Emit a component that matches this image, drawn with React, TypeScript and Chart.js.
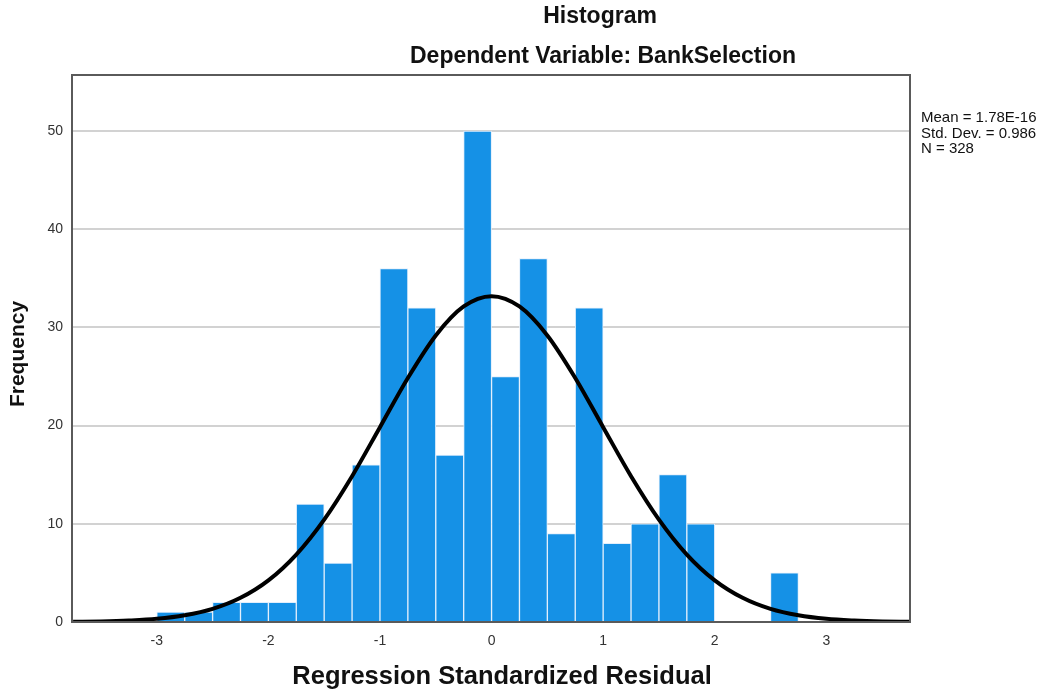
import React, { useEffect, useRef } from "react";
import { Chart, registerables } from "chart.js";

Chart.register(...registerables);

// Histogram bins (centers, width 0.25) and frequencies
const binCenters = [
  -2.875, -2.625, -2.375, -2.125, -1.875, -1.625, -1.375, -1.125, -0.875, -0.625, -0.375,
  -0.125, 0.125, 0.375, 0.625, 0.875, 1.125, 1.375, 1.625, 1.875, 2.125, 2.375, 2.625,
];
const frequencies = [
  1, 1, 2, 2, 2, 12, 6, 16, 36, 32, 17, 50, 25, 37, 9, 32, 8, 10, 15, 10, 0, 0, 5,
];

// Normal curve
const curveX = [
  -3.75, -3.5, -3.25, -3.0, -2.75, -2.5, -2.25, -2.0, -1.75, -1.5, -1.25, -1.0, -0.75, -0.5,
  -0.25, 0, 0.25, 0.5, 0.75, 1.0, 1.25, 1.5, 1.75, 2.0, 2.25, 2.5, 2.75, 3.0, 3.25, 3.5, 3.75,
];
const curveY = [
  0.02, 0.06, 0.15, 0.32, 0.68, 1.33, 2.46, 4.24, 6.87, 10.43, 14.85, 19.84, 24.85, 29.18,
  32.13, 33.18, 32.13, 29.18, 24.85, 19.84, 14.85, 10.43, 6.87, 4.24, 2.46, 1.33, 0.68, 0.32,
  0.15, 0.06, 0.02,
];

const xTicks = [-3, -2, -1, 0, 1, 2, 3];
const yTicks = [0, 10, 20, 30, 40, 50];

const titleText = "Histogram";
const subtitleText = "Dependent Variable: BankSelection";
const xTitle = "Regression Standardized Residual";
const yTitle = "Frequency";
const statsLines = ["Mean = 1.78E-16", "Std. Dev. = 0.986", "N = 328"];

const FONT = "'Liberation Sans', Arial, sans-serif";

const decorPlugin = {
  id: "decor",
  afterDraw(chart: any) {
    const { ctx, chartArea } = chart;
    const { left, right, top, bottom } = chartArea;
    ctx.save();
    // frame
    ctx.strokeStyle = "#5a5a5a";
    ctx.lineWidth = 2;
    ctx.strokeRect(left, top, right - left, bottom - top);
    // titles
    ctx.fillStyle = "#111";
    ctx.textAlign = "center";
    ctx.textBaseline = "alphabetic";
    ctx.font = `bold 23px ${FONT}`;
    ctx.fillText(titleText, 600, 23);
    ctx.fillText(subtitleText, 603, 63);
    ctx.font = `bold 25.5px ${FONT}`;
    ctx.fillText(xTitle, (left + right) / 2 + 11, 684);
    ctx.save();
    ctx.translate(24, 354);
    ctx.rotate(-Math.PI / 2);
    ctx.font = `bold 21px ${FONT}`;
    ctx.fillText(yTitle, 0, 0);
    ctx.restore();
    // stats
    ctx.textAlign = "left";
    ctx.font = `15px ${FONT}`;
    ctx.fillStyle = "#111";
    statsLines.forEach((s, i) => ctx.fillText(s, 921, 122 + i * 15.5));
    ctx.restore();
  },
};

export default function App() {
  const ref = useRef<HTMLCanvasElement>(null);
  useEffect(() => {
    if (!ref.current) return;
    const chart = new Chart(ref.current, {
      type: "bar",
      data: {
        datasets: [
          {
            type: "line",
            data: curveX.map((x, i) => ({ x, y: curveY[i] })),
            borderColor: "#000",
            borderWidth: 4,
            pointRadius: 0,
            cubicInterpolationMode: "monotone",
            fill: false,
            order: 0,
          } as any,
          {
            type: "bar",
            data: binCenters.map((x, i) => ({ x, y: frequencies[i] })),
            backgroundColor: "#1591e6",
            borderColor: "rgba(225,238,252,1)",
            borderWidth: 1,
            borderSkipped: "bottom",
            barPercentage: 1,
            categoryPercentage: 1,
            order: 1,
          } as any,
        ],
      },
      options: {
        animation: false,
        responsive: false,
        maintainAspectRatio: false,
        layout: { padding: { top: 75, right: 135, left: 0, bottom: 0 } },
        plugins: { legend: { display: false }, tooltip: { enabled: false }, title: { display: false } },
        scales: {
          x: {
            type: "linear",
            min: -3.76,
            max: 3.75,
            offset: false,
            grid: { display: false, drawTicks: false },
            border: { display: false },
            afterBuildTicks: (s: any) => {
              s.ticks = xTicks.map((v) => ({ value: v }));
            },
            afterFit: (s: any) => {
              s.height = 74;
            },
            ticks: {
              padding: 11,
              color: "#333",
              font: { family: FONT, size: 14 },
              maxRotation: 0,
              autoSkip: false,
              callback: (v: any) => String(v),
            },
          },
          y: {
            type: "linear",
            min: 0,
            max: 55.7,
            grid: { color: "#d2d2d2", lineWidth: 2, drawTicks: false },
            border: { display: false },
            afterBuildTicks: (s: any) => {
              s.ticks = yTicks.map((v) => ({ value: v }));
            },
            afterFit: (s: any) => {
              s.width = 72;
            },
            ticks: {
              padding: 9,
              color: "#333",
              font: { family: FONT, size: 14 },
              callback: (v: any) => String(v),
            },
          },
        },
      },
      plugins: [decorPlugin],
    });
    return () => chart.destroy();
  }, []);
  return (
    <div style={{ position: "fixed", left: 0, top: 0, width: 1045, height: 696, background: "#fff" }}>
      <canvas ref={ref} width={1045} height={696} style={{ display: "block" }} />
    </div>
  );
}
